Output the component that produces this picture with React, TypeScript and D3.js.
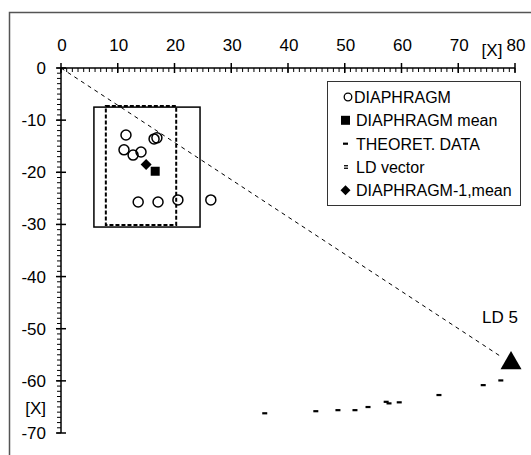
import * as d3 from "d3";

// diaphragm points (x, y)
const diaX = [11.45, 16.4, 16.9, 11.1, 12.7, 14.1, 13.6, 17.1, 20.6, 26.4];
const diaY = [-12.85, -13.6, -13.4, -15.7, -16.7, -16.1, -25.7, -25.7, -25.3, -25.3];
const diaMean = [16.6, -19.8];
const dia1Mean = [15.0, -18.5];

// theoretical data
const theoX = [35.9, 44.9, 48.8, 51.8, 54.1, 57.3, 57.8, 59.6, 66.6, 74.4, 77.5];
const theoY = [-66.2, -65.8, -65.6, -65.6, -65.0, -64.0, -64.3, -64.1, -62.7, -60.8, -59.9];

// LD vector end
const ldEnd = [79.3, -56.6];
const ldLabel = "LD 5";

const solidBox = [5.8, -7.5, 24.5, -30.5];
const dashBox = [7.9, -7.3, 20.3, -30.1];

const xTicks = [0, 10, 20, 30, 40, 50, 60, 70, 80];
const yTicks = [0, -10, -20, -30, -40, -50, -60, -70];
const legendItems = ["DIAPHRAGM", "DIAPHRAGM mean", "THEORET. DATA", "LD vector", "DIAPHRAGM-1,mean"];

const W = 531, H = 455;
const font = "Liberation Sans, Arial, sans-serif";

export default function App() {
  const x = d3.scaleLinear().domain([0, 80]).range([61, 515]);
  const y = d3.scaleLinear().domain([0, -70]).range([68, 433]);

  const xMinor = d3.range(0, 81, 1);
  const yMinor = d3.range(0, -71, -1);

  const tri = (cx: number, cy: number, s: number) => {
    const h = (s * Math.sqrt(3)) / 2;
    return `M${cx},${cy - (2 * h) / 3}L${cx + s / 2},${cy + h / 3}L${cx - s / 2},${cy + h / 3}Z`;
  };
  const diamond = (cx: number, cy: number, r: number) =>
    `M${cx},${cy - r}L${cx + r},${cy}L${cx},${cy + r}L${cx - r},${cy}Z`;

  const legX = 327, legY = 81, legW = 193, legH = 124;
  const rowY = (i: number) => 97 + i * 23.3;

  return (
    <svg width={W} height={H} style={{ position: "absolute", left: 0, top: 0, background: "#fff" }} fontFamily={font}>
      <rect x={9.5} y={12.5} width={W} height={H} fill="none" stroke="#555" strokeWidth={1.5} />

      {/* x axis */}
      <line x1={x(0)} x2={x(80)} y1={y(0)} y2={y(0)} stroke="#000" strokeWidth={1.5} />
      {xMinor.map((v) => (
        <line key={"xm" + v} x1={x(v)} x2={x(v)} y1={y(0)} y2={y(0) + 4} stroke="#000" strokeWidth={1} />
      ))}
      {xTicks.map((v) => (
        <g key={"xt" + v}>
          <line x1={x(v)} x2={x(v)} y1={y(0) - 5} y2={y(0) + 5} stroke="#000" strokeWidth={1.5} />
          <text x={x(v) + 1} y={51} textAnchor="middle" fontSize={17}>{v}</text>
        </g>
      ))}
      <text x={492} y={56} textAnchor="middle" fontSize={17}>[X]</text>

      {/* y axis */}
      <line x1={x(0)} x2={x(0)} y1={y(0)} y2={y(-70)} stroke="#000" strokeWidth={1.5} />
      {yMinor.map((v) => (
        <line key={"ym" + v} x1={x(0) - 4} x2={x(0)} y1={y(v)} y2={y(v)} stroke="#000" strokeWidth={1} />
      ))}
      {yTicks.map((v) => (
        <g key={"yt" + v}>
          <line x1={x(0) - 5} x2={x(0) + 5} y1={y(v)} y2={y(v)} stroke="#000" strokeWidth={1.5} />
          <text x={46} y={y(v) + 6} textAnchor="end" fontSize={17}>{v}</text>
        </g>
      ))}
      <text x={46} y={414} textAnchor="end" fontSize={17}>[X]</text>

      {/* LD vector */}
      <line x1={x(0)} y1={y(0)} x2={x(ldEnd[0]) - 10} y2={y(ldEnd[1]) - 6.5} stroke="#000" strokeWidth={1} strokeDasharray="4,4" />
      <path d={tri(x(ldEnd[0]), y(ldEnd[1]), 21)} fill="#000" />
      <text x={x(ldEnd[0]) - 11} y={323} textAnchor="middle" fontSize={17}>{ldLabel}</text>

      {/* boxes */}
      <rect x={x(solidBox[0])} y={y(solidBox[1])} width={x(solidBox[2]) - x(solidBox[0])} height={y(solidBox[3]) - y(solidBox[1])}
        fill="none" stroke="#000" strokeWidth={1.5} />
      <rect x={x(dashBox[0])} y={y(dashBox[1])} width={x(dashBox[2]) - x(dashBox[0])} height={y(dashBox[3]) - y(dashBox[1])}
        fill="none" stroke="#000" strokeWidth={2} strokeDasharray="4,2" />

      {/* points */}
      {diaX.map((v, i) => (
        <circle key={"c" + i} cx={x(v)} cy={y(diaY[i])} r={5} fill="#fff" fillOpacity={0} stroke="#000" strokeWidth={1.5} />
      ))}
      <rect x={x(diaMean[0]) - 4.5} y={y(diaMean[1]) - 4.5} width={9} height={9} fill="#000" />
      <path d={diamond(x(dia1Mean[0]), y(dia1Mean[1]), 5.5)} fill="#000" />
      {theoX.map((v, i) => (
        <rect key={"t" + i} x={x(v) - 2.5} y={y(theoY[i]) - 1} width={5} height={2.2} fill="#000" />
      ))}

      {/* legend */}
      <rect x={legX + 0.5} y={legY + 0.5} width={legW} height={legH} fill="#fff" stroke="#333" strokeWidth={1} />
      <circle cx={348} cy={rowY(0)} r={3.8} fill="none" stroke="#000" strokeWidth={1.3} />
      <rect x={341} y={rowY(1) - 4.5} width={9} height={9} fill="#000" />
      <rect x={343} y={rowY(2) - 1} width={5} height={2.2} fill="#000" />
      <rect x={344} y={rowY(3) - 1.8} width={4} height={1.3} fill="#000" />
      <rect x={344} y={rowY(3) + 0.7} width={4} height={1.3} fill="#000" />
      <path d={diamond(345.5, rowY(4), 5)} fill="#000" />
      {legendItems.map((t, i) => (
        <text key={"l" + i} x={i === 0 ? 354 : 356} y={rowY(i) + 6} fontSize={16}>{t}</text>
      ))}
    </svg>
  );
}
